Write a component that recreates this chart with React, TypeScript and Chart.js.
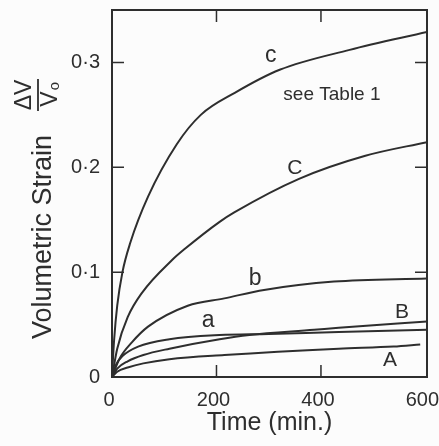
import React, { useEffect, useRef } from "react";
import { Chart, registerables } from "chart.js";

Chart.register(...registerables);

// ---- data (time in minutes, volumetric strain ΔV/V0) ----
const cTime = [0, 4, 10, 20, 35, 69, 124, 170, 235, 321, 455, 603];
const cStrain = [0, 0.035, 0.068, 0.1, 0.128, 0.172, 0.222, 0.25, 0.271, 0.293, 0.312, 0.329];

const bigCTime = [0, 10, 30, 57, 116, 139, 206, 234, 358, 485, 603];
const bigCStrain = [0, 0.027, 0.057, 0.08, 0.112, 0.122, 0.148, 0.157, 0.189, 0.211, 0.224];

const bTime = [0, 15, 38, 69, 145, 215, 291, 425, 603];
const bStrain = [0, 0.018, 0.033, 0.048, 0.068, 0.075, 0.083, 0.091, 0.094];

const aTime = [0, 8, 20, 50, 110, 206, 300, 434, 603];
const aStrain = [0, 0.012, 0.02, 0.029, 0.036, 0.04, 0.041, 0.043, 0.045];

const bigBTime = [0, 10, 30, 60, 110, 206, 263, 387, 434, 603];
const bigBStrain = [0, 0.008, 0.015, 0.021, 0.027, 0.036, 0.04, 0.045, 0.047, 0.053];

const bigATime = [0, 10, 30, 60, 110, 215, 434, 539, 590];
const bigAStrain = [0, 0.005, 0.009, 0.013, 0.017, 0.021, 0.027, 0.029, 0.031];

const seriesNames = ["c", "C", "b", "a", "B", "A"];
const seriesTimes = [cTime, bigCTime, bTime, aTime, bigBTime, bigATime];
const seriesStrains = [cStrain, bigCStrain, bStrain, aStrain, bigBStrain, bigAStrain];

const xTicks = [0, 200, 400, 600];
const xTickLabels = ["0", "200", "400", "600"];
const yTicks = [0, 0.1, 0.2, 0.3];
const yTickLabels = ["0", "0·1", "0·2", "0·3"];

const FONT = "'Liberation Sans', Arial, sans-serif";
const INK = "#2e2e2e";

// curve labels placed in data coordinates
const curveLabels: { text: string; t: number; v: number; size: number }[] = [
  { text: "c", t: 304, v: 0.306, size: 23 },
  { text: "see Table 1", t: 421, v: 0.269, size: 19 },
  { text: "C", t: 350, v: 0.199, size: 21 },
  { text: "b", t: 274, v: 0.0935, size: 23 },
  { text: "a", t: 184, v: 0.0535, size: 23 },
  { text: "B", t: 555, v: 0.062, size: 21 },
  { text: "A", t: 532, v: 0.016, size: 21 },
];

const decorPlugin = {
  id: "decor",
  beforeDraw(chart: any) {
    const { ctx, width, height } = chart;
    ctx.save();
    ctx.fillStyle = "#fcfcfc";
    ctx.fillRect(0, 0, width, height);
    ctx.restore();
  },
  afterDraw(chart: any) {
    const { ctx, chartArea: a, scales } = chart;
    const x = scales.x;
    const y = scales.y;
    ctx.save();
    ctx.strokeStyle = INK;
    ctx.lineWidth = 2;
    ctx.strokeRect(a.left, a.top, a.right - a.left, a.bottom - a.top);

    // inward tick marks on all four sides
    const tl = 12;
    ctx.lineWidth = 1.5;
    ctx.beginPath();
    for (const v of xTicks) {
      if (v <= 0 || v >= 600) continue;
      const px = x.getPixelForValue(v);
      ctx.moveTo(px, a.bottom);
      ctx.lineTo(px, a.bottom - tl);
      ctx.moveTo(px, a.top);
      ctx.lineTo(px, a.top + tl);
    }
    for (const v of yTicks) {
      if (v <= 0) continue;
      const py = y.getPixelForValue(v);
      ctx.moveTo(a.left, py);
      ctx.lineTo(a.left + tl, py);
      ctx.moveTo(a.right, py);
      ctx.lineTo(a.right - tl, py);
    }
    ctx.stroke();

    // y axis title: "Volumetric Strain" and ΔV / V0 fraction
    ctx.fillStyle = INK;
    ctx.textAlign = "center";
    ctx.textBaseline = "middle";
    ctx.save();
    ctx.translate(44, 237);
    ctx.rotate(-Math.PI / 2);
    ctx.font = `27px ${FONT}`;
    ctx.fillText("Volumetric Strain", 0, 0);
    ctx.restore();

    ctx.save();
    ctx.translate(38, 95);
    ctx.rotate(-Math.PI / 2);
    ctx.font = `23px ${FONT}`;
    ctx.fillText("ΔV", 0, -13);
    ctx.fillText("V", -4, 13);
    ctx.font = `15px ${FONT}`;
    ctx.fillText("o", 9, 17);
    ctx.lineWidth = 1.8;
    ctx.beginPath();
    ctx.moveTo(-16, 0);
    ctx.lineTo(16, 0);
    ctx.stroke();
    ctx.restore();

    // curve labels
    for (const l of curveLabels) {
      ctx.font = `${l.size}px ${FONT}`;
      ctx.fillText(l.text, x.getPixelForValue(l.t), y.getPixelForValue(l.v));
    }
    ctx.restore();
  },
};

export default function App() {
  const ref = useRef<HTMLCanvasElement | null>(null);

  useEffect(() => {
    if (!ref.current) return;
    const datasets = seriesNames.map((name, i) => ({
      label: name,
      data: seriesTimes[i].map((t, j) => ({ x: t, y: seriesStrains[i][j] })),
      borderColor: INK,
      borderWidth: 2,
      pointRadius: 0,
      fill: false,
      cubicInterpolationMode: "monotone" as const,
    }));

    const chart = new Chart(ref.current, {
      type: "line",
      data: { datasets },
      options: {
        animation: false,
        responsive: false,
        maintainAspectRatio: false,
        layout: { padding: { left: 12, top: 10, right: 12, bottom: 0 } },
        plugins: {
          legend: { display: false },
          tooltip: { enabled: false },
        },
        scales: {
          x: {
            type: "linear",
            min: 0,
            max: 603,
            afterBuildTicks: (s: any) => {
              s.ticks = xTicks.map((v) => ({ value: v }));
            },
            afterFit: (s: any) => {
              s.height = 69;
              s.paddingLeft = 0;
              s.paddingRight = 0;
              s.paddingTop = 0;
              s.paddingBottom = 0;
            },
            grid: { display: false, drawTicks: false },
            border: { display: false },
            ticks: {
              padding: 11,
              labelOffset: -3,
              color: INK,
              autoSkip: false,
              maxRotation: 0,
              font: { family: FONT, size: 20 },
              callback: (_v: any, i: number) => xTickLabels[i],
            },
            title: {
              display: true,
              text: "Time (min.)",
              color: INK,
              font: { family: FONT, size: 25 },
              padding: { top: 0, bottom: 8 },
            },
          },
          y: {
            type: "linear",
            min: 0,
            max: 0.35,
            afterBuildTicks: (s: any) => {
              s.ticks = yTicks.map((v) => ({ value: v }));
            },
            afterFit: (s: any) => {
              s.width = 100;
              s.paddingLeft = 0;
              s.paddingRight = 0;
              s.paddingTop = 0;
              s.paddingBottom = 0;
            },
            grid: { display: false, drawTicks: false },
            border: { display: false },
            ticks: {
              padding: 12,
              color: INK,
              autoSkip: false,
              font: { family: FONT, size: 20 },
              callback: (_v: any, i: number) => yTickLabels[i],
            },
          },
        },
      },
      plugins: [decorPlugin],
    });
    return () => chart.destroy();
  }, []);

  return (
    <div style={{ position: "fixed", left: 0, top: 0, width: 439, height: 446 }}>
      <canvas ref={ref} width={439} height={446} style={{ display: "block" }} />
    </div>
  );
}
